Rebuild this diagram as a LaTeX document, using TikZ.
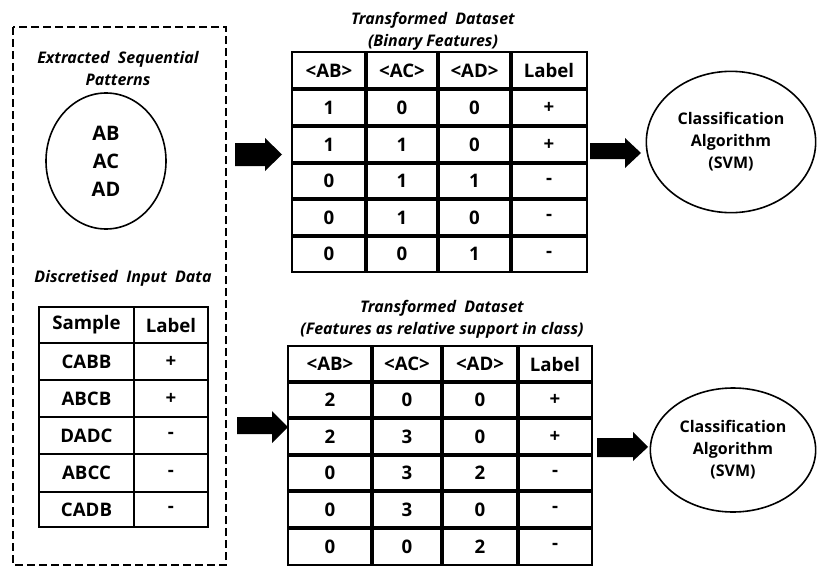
\documentclass[tikz,border=0pt]{standalone}
\usepackage{fontspec}
\setmainfont{Open Sans}
\usetikzlibrary{shapes.geometric}
\begin{document}
\begin{tikzpicture}[x=0.75pt,y=-0.75pt,
  cell/.style={font=\fontsize{14}{16}\selectfont\bfseries, inner sep=0pt},
  ttl/.style={font=\fontsize{12}{16.5}\selectfont\bfseries\itshape, align=center, inner sep=0pt},
  inline/.style={line width=2.3pt},
  outline/.style={line width=0.9pt},
  oval/.style={draw, ellipse, line width=1.2pt, inner sep=0pt, align=center},
  blockarrow/.style={fill=black}]
\useasboundingbox (0,0) rectangle (817,567);

% dashed frame
\draw[line width=1.2pt, dash pattern=on 6pt off 3pt] (13,27) rectangle (226,565);

% left part
\node[ttl] (t1) at (118,68) {Extracted\ \ Sequential\\Patterns};
\node[oval, minimum width=90pt, minimum height=102pt, font=\fontsize{15}{21}\selectfont\bfseries] (pat) at (106,161) {AB\\AC\\AD};
\node[ttl] (t2) at (123,278) {Discretised\ \ Input\ \ Data};

\foreach \y in {343,380,417,454,492} \draw[line width=1.6pt] (39,\y) -- (208,\y);
\draw[line width=1.6pt] (134,307) -- (134,527);
\draw[outline] (39,307) rectangle (208,527);
\foreach \y/\a/\b [count=\i] in {325/Sample/Label, 361.5/CABB/+, 398.5/ABCB/+, 435.5/DADC/-, 473/ABCC/-, 509.5/CADB/-}{
  \node[cell] (s-\i-1) at (86.5,\y) {\a};
  \node[cell] (s-\i-2) at (171,\y) {\b};
}

% top table
\node[ttl] (t3) at (433,31) {Transformed\ \ Dataset\\(Binary Features)};
\foreach \y in {89,126,163,199,236} \draw[inline] (292,\y) -- (587,\y);
\foreach \x in {366,438,511} \draw[inline] (\x,52) -- (\x,272);
\draw[outline] (292,52) rectangle (587,272);
\foreach \y/\a/\b/\c/\d [count=\i] in {70.5/{<AB>}/{<AC>}/{<AD>}/Label, 107.5/1/0/0/+, 144.5/1/1/0/+, 181/0/1/1/-, 217.5/0/1/0/-, 254/0/0/1/-}{
  \node[cell] (a-\i-1) at (329,\y) {\a};
  \node[cell] (a-\i-2) at (402,\y) {\b};
  \node[cell] (a-\i-3) at (474.5,\y) {\c};
  \node[cell] (a-\i-4) at (549,\y) {\d};
}

% bottom table
\node[ttl] (t4) at (442,319.5) {Transformed\ \ Dataset\\(Features\ as\ relative\ support\ in\ class)};
\foreach \y in {382,418,455,491,528} \draw[inline] (288,\y) -- (592,\y);
\foreach \x in {372,442,518} \draw[inline] (\x,346) -- (\x,565);
\draw[outline] (288,346) rectangle (592,565);
\foreach \y/\a/\b/\c/\d [count=\i] in {364/{<AB>}/{<AC>}/{<AD>}/Label, 400/2/0/0/+, 436.5/2/3/0/+, 473/0/3/2/-, 509.5/0/3/0/-, 546.5/0/0/2/-}{
  \node[cell] (b-\i-1) at (330,\y) {\a};
  \node[cell] (b-\i-2) at (407,\y) {\b};
  \node[cell] (b-\i-3) at (480,\y) {\c};
  \node[cell] (b-\i-4) at (555,\y) {\d};
}

% classifiers
\node[oval, minimum width=127pt, minimum height=106pt, font=\fontsize{12}{16.5}\selectfont\bfseries] (svm1) at (731,142) {Classification\\Algorithm\\(SVM)};
\node[oval, minimum width=124pt, minimum height=93pt, font=\fontsize{12}{16.5}\selectfont\bfseries] (svm2) at (733,450) {Classification\\Algorithm\\(SVM)};

% block arrows
\fill[blockarrow] (235,143) -- (265,143) -- (265,138) -- (282,154.5) -- (265,171) -- (265,166) -- (235,166) -- cycle;
\fill[blockarrow] (237,417) -- (272,417) -- (272,411) -- (288,427) -- (272,443) -- (272,434) -- (237,434) -- cycle;
\fill[blockarrow] (590,143) -- (625,143) -- (625,138) -- (641,153) -- (625,168) -- (625,159) -- (590,159) -- cycle;
\fill[blockarrow] (597,438) -- (633,438) -- (633,432) -- (648,447) -- (633,461) -- (633,457) -- (597,457) -- cycle;
\end{tikzpicture}
\end{document}
